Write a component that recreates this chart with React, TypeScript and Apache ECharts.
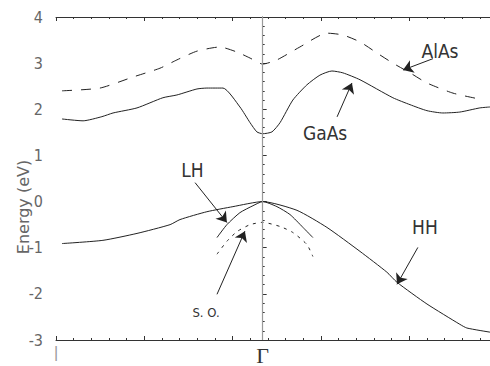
import React, { useEffect, useRef } from "react";
import * as echarts from "echarts";

// Band energies (eV) versus wave vector; Γ at k = 0
const alasBand: [number, number][] = [
  [-0.971, 2.40], [-0.787, 2.46], [-0.627, 2.70], [-0.497, 2.89], [-0.415, 3.07],
  [-0.318, 3.26], [-0.207, 3.35], [-0.124, 3.24], [-0.061, 3.11], [0, 2.98],
  [0.069, 3.07], [0.180, 3.35], [0.311, 3.65], [0.388, 3.61], [0.471, 3.46],
  [0.553, 3.22], [0.630, 3.00], [0.713, 2.79], [0.795, 2.57], [0.921, 2.35],
  [1.051, 2.22],
];
const gaasBand: [number, number][] = [
  [-0.971, 1.79], [-0.869, 1.75], [-0.778, 1.84], [-0.724, 1.92], [-0.608, 2.03],
  [-0.483, 2.25], [-0.415, 2.31], [-0.318, 2.44], [-0.270, 2.46], [-0.192, 2.46],
  [-0.110, 2.05], [-0.061, 1.71], [-0.028, 1.51], [0, 1.47], [0.045, 1.51],
  [0.084, 1.71], [0.146, 2.20], [0.214, 2.53], [0.277, 2.74], [0.335, 2.83],
  [0.388, 2.79], [0.471, 2.64], [0.630, 2.25], [0.713, 2.10], [0.795, 1.97],
  [0.872, 1.92], [0.954, 1.94], [1.051, 2.03], [1.100, 2.05],
];
const hhBand: [number, number][] = [
  [-0.971, -0.91], [-0.773, -0.84], [-0.608, -0.69], [-0.448, -0.50], [-0.400, -0.39],
  [-0.270, -0.22], [-0.144, -0.11], [0, 0], [0.166, -0.19], [0.311, -0.56],
  [0.471, -1.08], [0.601, -1.53], [0.650, -1.75], [0.795, -2.22], [0.954, -2.66],
  [0.988, -2.74], [1.100, -2.83],
];
const lhBand: [number, number][] = [
  [-0.221, -0.78], [-0.173, -0.50], [-0.110, -0.24], [-0.047, -0.09], [0, 0],
  [0.069, -0.11], [0.132, -0.28], [0.195, -0.56], [0.243, -0.78],
];
const soBand: [number, number][] = [
  [-0.221, -1.14], [-0.173, -0.86], [-0.124, -0.65], [-0.061, -0.50], [0, -0.45],
  [0.084, -0.54], [0.146, -0.67], [0.214, -0.93], [0.243, -1.19],
];

// Annotation labels: [text, x, y, fontSize]
const labels: [string, number, number, number][] = [
  ["AlAs", 0.858, 3.27, 19],
  ["GaAs", 0.302, 1.48, 19],
  ["LH", -0.340, 0.69, 19],
  ["S. O.", -0.274, -2.40, 13],
  ["HH", 0.785, -0.55, 19],
];
// Arrows: [tailX, tailY, headX, headY]
const arrows: [number, number, number, number][] = [
  [0.824, 3.097, 0.679, 2.851],
  [0.360, 1.836, 0.432, 2.570],
  [-0.327, 0.410, -0.173, -0.454],
  [-0.221, -2.01, -0.086, -0.641],
  [0.751, -0.994, 0.650, -1.793],
];
const yTicks = { min: -3, max: 4, interval: 1 };

const FONT = "'Liberation Sans Narrow', 'DejaVu Sans Condensed', 'Liberation Sans', sans-serif";
const INK = "#222";

export default function App() {
  const ref = useRef<HTMLDivElement>(null);
  useEffect(() => {
    if (!ref.current) return;
    const chart = echarts.init(ref.current, null, { renderer: "svg" });
    const tickAxis = (position: "top" | "bottom", showLine: boolean) => ({
      type: "value",
      position,
      min: 0,
      max: 24.58,
      interval: 5,
      axisLine: { show: showLine, lineStyle: { color: "#333", width: 1 } },
      axisTick: { show: true, inside: true, length: 4, lineStyle: { color: "#333" } },
      minorTick: { show: true, splitNumber: 5, length: 2, lineStyle: { color: "#333" } },
      axisLabel: { show: false },
      splitLine: { show: false },
    });
    const lineSeries = (data: [number, number][], type: any, extra: any = {}) => ({
      type: "line",
      data,
      xAxisIndex: 0,
      yAxisIndex: 0,
      showSymbol: false,
      symbol: "none",
      smooth: 0.2,
      lineStyle: { color: INK, width: 1, type },
      silent: true,
      ...extra,
    });
    chart.setOption({
      animation: false,
      grid: { left: 56, right: 0, top: 17, bottom: 25 },
      xAxis: [
        {
          type: "value",
          position: "bottom",
          min: -1,
          max: 1.1,
          interval: 1,
          axisLine: { show: false },
          axisTick: { show: false },
          splitLine: { show: false },
          axisLabel: {
            margin: 4,
            showMaxLabel: false,
            formatter: (v: number) => (v === 0 ? "{g|Γ}" : v === -1 ? "{b||}" : ""),
            rich: {
              g: { fontFamily: "'Liberation Serif', serif", fontSize: 22, color: "#333" },
              b: { fontFamily: "'Liberation Sans', sans-serif", fontSize: 16, color: "#999" },
            },
          },
        },
        tickAxis("bottom", true),
        tickAxis("top", true),
      ],
      yAxis: {
        type: "value",
        min: yTicks.min,
        max: yTicks.max,
        interval: yTicks.interval,
        axisLine: { show: true, lineStyle: { color: "#333", width: 1 } },
        axisTick: { show: true, inside: true, length: 4, lineStyle: { color: "#333" } },
        minorTick: { show: true, splitNumber: 5, length: 2, lineStyle: { color: "#333" } },
        splitLine: { show: false },
        axisLabel: { margin: 13, fontSize: 16, color: "#666", fontFamily: FONT },
      },
      series: [
        lineSeries(hhBand, "solid", {
          markLine: {
            silent: true,
            symbol: "none",
            label: { show: false },
            lineStyle: { color: "#999", width: 1.2, type: "solid" },
            data: [{ xAxis: 0 }],
          },
        }),
        lineSeries(lhBand, "solid", {
          markLine: {
            silent: true,
            symbol: ["none", "arrow"],
            symbolSize: 10,
            label: { show: false },
            lineStyle: { color: INK, width: 1, type: "solid" },
            data: arrows.map((a) => [{ coord: [a[0], a[1]] }, { coord: [a[2], a[3]] }]),
          },
        }),
        lineSeries(soBand, [3, 5]),
        lineSeries(gaasBand, "solid"),
        lineSeries(alasBand, [10, 9]),
      ],
    });
    const graphics: any[] = labels.map(([text, x, y, size]) => {
      const p = chart.convertToPixel({ seriesIndex: 0 }, [x, y]) as number[];
      return {
        type: "text",
        x: p[0],
        y: p[1],
        silent: true,
        style: {
          text,
          fill: "#333",
          font: `${size}px ${FONT}`,
          align: "center",
          verticalAlign: "middle",
        },
      };
    });
    graphics.push({
      type: "text",
      x: 23,
      y: 207,
      rotation: Math.PI / 2,
      silent: true,
      style: {
        text: "Energy (eV)",
        fill: "#666",
        font: "16px 'DejaVu Sans', sans-serif",
        align: "center",
        verticalAlign: "middle",
      },
    });
    chart.setOption({ graphic: graphics });
    return () => chart.dispose();
  }, []);
  return <div ref={ref} style={{ width: 490, height: 366, position: "absolute", left: 0, top: 0 }} />;
}
